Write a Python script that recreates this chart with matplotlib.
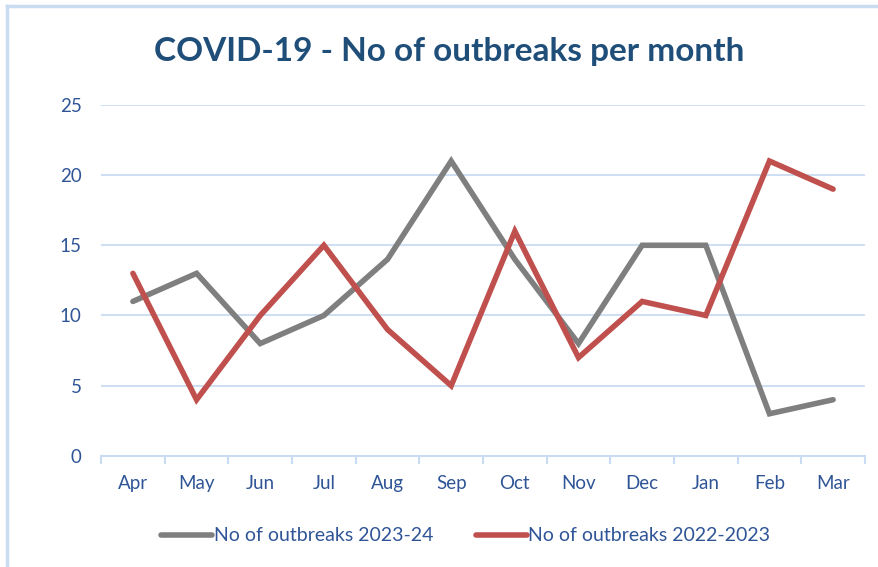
import matplotlib
matplotlib.use('Agg')
import matplotlib.pyplot as plt
from matplotlib.lines import Line2D

months = ['Apr', 'May', 'Jun', 'Jul', 'Aug', 'Sep', 'Oct', 'Nov', 'Dec', 'Jan', 'Feb', 'Mar']
outbreaks_2023_24 = [11, 13, 8, 10, 14, 21, 14, 8, 15, 15, 3, 4]
outbreaks_2022_23 = [13, 4, 10, 15, 9, 5, 16, 7, 11, 10, 21, 19]

label_blue = '#2F5597'
grid_blue = '#C9DCF2'

plt.rcParams['font.family'] = ['Lato', 'DejaVu Sans']

fig = plt.figure(figsize=(8.79, 5.67), dpi=100)
ax = fig.add_axes([0.115, 0.196, 0.869, 0.619])

x = list(range(len(months)))
ax.plot(x, outbreaks_2023_24, color='#7F7F7F', lw=4, solid_capstyle='round',
        solid_joinstyle='miter', label='No of outbreaks 2023-24')
ax.plot(x, outbreaks_2022_23, color='#C0504D', lw=4, solid_capstyle='round',
        solid_joinstyle='miter', label='No of outbreaks 2022-2023')

ax.set_xlim(-0.5, 11.5)
ax.set_ylim(0, 25)
ax.set_yticks([0, 5, 10, 15, 20, 25])
ax.set_xticks(x)
ax.set_xticklabels(months)
ax.set_xticks([i - 0.5 for i in range(13)], minor=True)
ax.tick_params(axis='x', which='major', length=0, pad=14, labelsize=13.5, labelcolor=label_blue)
ax.tick_params(axis='x', which='minor', length=6, color=grid_blue, width=1.5)
ax.tick_params(axis='y', length=0, pad=14, labelsize=13.5, labelcolor=label_blue)

ax.grid(axis='y', color=grid_blue, lw=1.3)
ax.set_axisbelow(True)
for s in ['top', 'right', 'left']:
    ax.spines[s].set_visible(False)
ax.spines['bottom'].set_color(grid_blue)
ax.spines['bottom'].set_linewidth(1.5)

fig.text(0.511, 0.91, 'COVID-19 - No of outbreaks per month', ha='center', va='center',
         fontsize=24, fontweight='bold', color='#1F4E79')

handles = [Line2D([], [], color='#7F7F7F', lw=4, solid_capstyle='round'),
           Line2D([], [], color='#C0504D', lw=4, solid_capstyle='round')]
fig.legend(handles, ['No of outbreaks 2023-24', 'No of outbreaks 2022-2023'],
           loc='center', bbox_to_anchor=(0.53, 0.055), ncol=2, frameon=False,
           fontsize=14, labelcolor=label_blue, handlelength=2.6, handletextpad=0.1,
           columnspacing=2.2)

# light blue frame on left and top edges
fig.add_artist(Line2D([0.0085, 0.0085], [0, 0.99], transform=fig.transFigure,
                      color=grid_blue, lw=2.5))
fig.add_artist(Line2D([0.0085, 1.0], [0.99, 0.99], transform=fig.transFigure,
                      color=grid_blue, lw=2.5))

fig.savefig('out.png', dpi=100)
